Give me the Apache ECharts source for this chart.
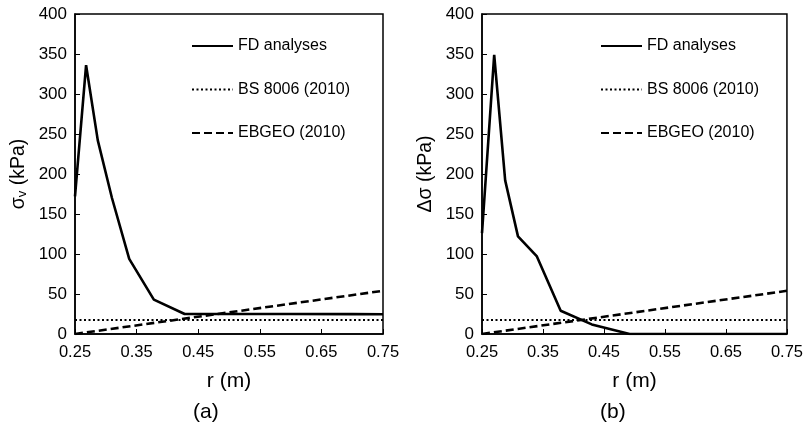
<!DOCTYPE html>
<html><head><meta charset="utf-8">
<script src="https://cdn.jsdelivr.net/npm/echarts@6/dist/echarts.min.js"></script>
<style>html,body{margin:0;padding:0;background:#fff}#c{width:806px;height:427px}</style>
</head><body><div id="c"></div>
<script>
// ---- data ----
const rFdA = [0.25, 0.268, 0.287, 0.31, 0.338, 0.378, 0.428, 0.50, 0.60, 0.70, 0.75];
const fdA  = [172, 336, 242, 170, 94, 43, 25, 25, 25, 24.8, 24.6];
const rFdB = [0.25, 0.27, 0.288, 0.309, 0.34, 0.379, 0.43, 0.492, 0.60, 0.70, 0.75];
const fdB  = [126, 349, 192, 122, 97, 29, 12, 0, 0, 0, 0];
const rLine = [0.25, 0.75];
const bsVals = [17.5, 17.5];
const ebVals = [0, 54];
const seriesNames = ['FD analyses', 'BS 8006 (2010)', 'EBGEO (2010)'];
const panelLabels = ['(a)', '(b)'];
const xTitle = 'r (m)';

const pairs = (xs, ys) => xs.map((x, i) => [x, ys[i]]);
const FONT = 'Liberation Sans, Arial, sans-serif';

const chart = echarts.init(document.getElementById('c'));
const grids = [
  {left: 75, top: 14, width: 308, height: 320},
  {left: 482, top: 14, width: 308, height: 320}
];
const yNames = ['{s|σ}{sub|v}{s| (kPa)}', '{s|Δσ (kPa)}'];

function xAxis(i) {
  return {
    gridIndex: i, type: 'value', min: 0.25, max: 0.75, interval: 0.1,
    name: xTitle, nameLocation: 'middle', nameGap: 37,
    nameTextStyle: {fontFamily: FONT, fontSize: 21, color: '#000'},
    axisLine: {lineStyle: {color: '#000', width: 1.5}},
    axisTick: {inside: true, length: 5, lineStyle: {color: '#000', width: 1}},
    axisLabel: {fontFamily: FONT, fontSize: 16.5, color: '#000', margin: 10,
      formatter: v => v.toFixed(2)},
    splitLine: {show: false}
  };
}
function yAxis(i) {
  return {
    gridIndex: i, type: 'value', min: 0, max: 400, interval: 50,
    name: yNames[i], nameLocation: 'middle', nameGap: 46, nameRotate: 90,
    nameTextStyle: {fontFamily: FONT, color: '#000',
      rich: {
        s: {fontFamily: FONT, fontSize: 19.5, color: '#000'},
        sub: {fontFamily: FONT, fontSize: 13, color: '#000', verticalAlign: 'bottom', padding: [8, 0, 0, 0]}
      }},
    axisLine: {lineStyle: {color: '#000', width: 1.5}},
    axisTick: {inside: true, length: 5, lineStyle: {color: '#000', width: 1}},
    axisLabel: {fontFamily: FONT, fontSize: 17, color: '#000', margin: 8},
    splitLine: {show: false}
  };
}
function legend(i, left) {
  return {
    orient: 'vertical', left: left, top: 33, itemWidth: 41, itemHeight: 14, itemGap: 27.5,
    textStyle: {fontFamily: FONT, fontSize: 16, color: '#000'},
    itemStyle: {opacity: 0},
    data: seriesNames.map(n => ({name: n})), selectedMode: false
  };
}
const styles = [
  {color: '#000', width: 2.6, type: 'solid'},
  {color: '#000', width: 2, type: [2, 2.5]},
  {color: '#000', width: 2.6, type: [8, 4]}
];
const series = [];
[[rFdA, fdA], [rFdB, fdB]].forEach((fd, i) => {
  const sets = [pairs(fd[0], fd[1]), pairs(rLine, bsVals), pairs(rLine, ebVals)];
  sets.forEach((d, k) => {
    series.push({
      name: seriesNames[k], type: 'line', xAxisIndex: i, yAxisIndex: i,
      data: d, symbol: 'none', lineStyle: styles[k], itemStyle: {color: '#000'},
      z: 3 - k, silent: true, animation: false
    });
  });
});

chart.setOption({
  animation: false,
  grid: grids.map(g => Object.assign({show: true, borderColor: '#000', borderWidth: 1.5, backgroundColor: 'transparent'}, g)),
  xAxis: [xAxis(0), xAxis(1)],
  yAxis: [yAxis(0), yAxis(1)],
  legend: [legend(0, 186), legend(1, 595)],
  series: series,
  graphic: [
    {type: 'text', left: 193, top: 402, style: {text: panelLabels[0], font: '21px ' + FONT, fill: '#000'}},
    {type: 'text', left: 600, top: 402, style: {text: panelLabels[1], font: '21px ' + FONT, fill: '#000'}}
  ]
});
</script></body></html>
